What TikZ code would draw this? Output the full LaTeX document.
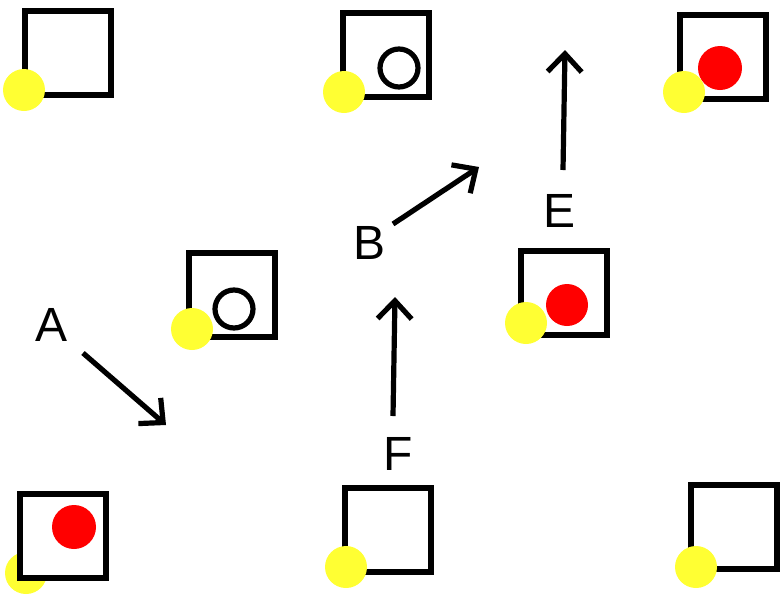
\documentclass[tikz,border=0pt]{standalone}
\usepackage{fontspec}
\setmainfont{Liberation Sans}
\usetikzlibrary{arrows.meta}
\definecolor{sunny}{HTML}{FFFF33}

\begin{document}
\begin{tikzpicture}[x=1pt,y=-1pt,
  box/.style={draw,line width=5.2pt,fill=white,minimum width=86pt,minimum height=84pt,inner sep=0pt},
  dot/.style={circle,fill=sunny,minimum size=42pt,inner sep=0pt},
  ball/.style={circle,fill=red,minimum size=44pt,inner sep=0pt},
  ring/.style={circle,draw,line width=5.2pt,minimum size=38pt,inner sep=0pt},
  lbl/.style={font=\fontsize{48}{52}\selectfont,inner sep=0pt},
  move/.style={line width=5.2pt,-{Straight Barb[length=18pt,width=34pt]}}]
  \useasboundingbox (0,0) rectangle (784,603);
  % bottom-left: yellow sits under the box
  \node[dot] (y6) at (26,573) {};
  \node[box] (s6) at (63,536) {}; % 6
  \node[ball] (r6) at (74,527) {};
  % boxes
  \node[box] (s1) at (68,53) {}; % 1
  \node[box] (s2) at (386,55) {}; % 2
  \node[box] (s3) at (723,57) {}; % 3
  \node[box] (s4) at (232,295) {}; % 4
  \node[box] (s5) at (564,293) {}; % 5
  \node[box] (s7) at (388,530) {}; % 7
  \node[box] (s8) at (734,527) {}; % 8
  % contents
  \node[ring] (c2) at (399,68) {};
  \node[ball] (r3) at (720,68) {};
  \node[ring] (c4) at (234,309) {};
  \node[ball,minimum size=42pt] (r5) at (567,305) {};
  % yellow dots
  \node[dot] (y1) at (24,90) {};
  \node[dot] (y2) at (344,92) {};
  \node[dot] (y3) at (684,92) {};
  \node[dot] (y4) at (192,329) {};
  \node[dot] (y5) at (526,323) {};
  \node[dot] (y7) at (346,567) {};
  \node[dot] (y8) at (696,567) {};
  % labels
  \node[lbl] (A) at (52,325) {A};
  \node[lbl] (B) at (370,243) {B};
  \node[lbl] (E) at (559,211) {E};
  \node[lbl] (F) at (398,454) {F};
  % arrows
  \coordinate (a0) at (83,353);  \coordinate (a1) at (166,425);
  \coordinate (b0) at (393,224); \coordinate (b1) at (479,167);
  \coordinate (e0) at (563,170); \coordinate (e1) at (565,50);
  \coordinate (f0) at (393,416); \coordinate (f1) at (395,297);
  \draw[move] (a0) -- (a1); % A
  \draw[move] (b0) -- (b1); % B
  \draw[move] (e0) -- (e1); % E
  \draw[move] (f0) -- (f1); % F
\end{tikzpicture}
\end{document}
